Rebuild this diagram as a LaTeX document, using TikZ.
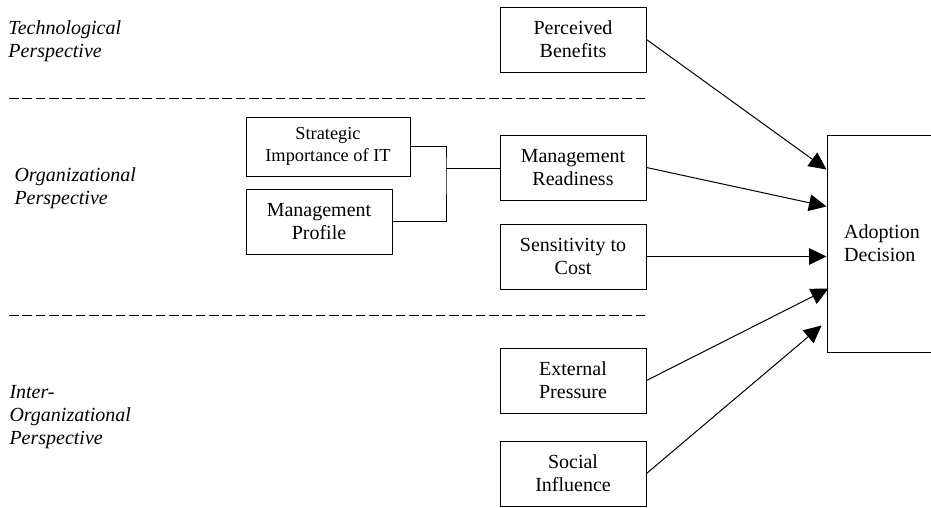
\documentclass[tikz,border=0pt]{standalone}
\usepackage{fontspec}
\setmainfont{Liberation Serif}
\usepackage{tikz}
\usetikzlibrary{positioning,calc,arrows.meta}

\begin{document}
\begin{tikzpicture}[x=0.6pt, y=-0.6pt, line width=0.6pt,
    every node/.style = {align=center, font=\fontsize{12}{13.8}\selectfont},
    box/.style = {draw, minimum width=87.6pt, minimum height=39pt, inner sep=2pt},
    persp/.style = {anchor=west, align=left, inner sep=0pt, font=\fontsize{12}{13.8}\selectfont\itshape},
    sep/.style = {dash pattern=on 5.8pt off 2.2pt},
    arr/.style = {-{Triangle[length=10.5pt, width=10pt]}}]
  \useasboundingbox (0,0) rectangle (931,507);

  % perspectives
  \node[persp] (tech) at (8,41.5) {Technological\\Perspective};
  \node[persp] (org) at (14,188.5) {Organizational\\Perspective};
  \node[persp] (inter) at (9,417) {Inter-\\Organizational\\Perspective};
  \draw[sep] (9,98) -- (646,98);
  \draw[sep] (9,315) -- (646,315);

  % factors
  \node[box] (benefits) at (573,39.5) {Perceived\\Benefits};
  \node[box] (readiness) at (573,167.5) {Management\\Readiness};
  \node[box] (cost) at (573,256.5) {Sensitivity to\\Cost};
  \node[box] (pressure) at (573,380.5) {External\\Pressure};
  \node[box] (influence) at (573,473.5) {Social\\Influence};
  \node[box, minimum width=98.4pt, minimum height=35.4pt,
        font=\fontsize{11}{13}\selectfont] (strategic) at (328,146.5) {Strategic\\Importance of IT};
  \node[box] (profile) at (319,221.5) {Management\\Profile};
  \node[draw, minimum width=66pt, minimum height=130.2pt, align=left] (adopt) at (882,243.5) {Adoption\\Decision};

  % links
  \coordinate (join) at (446,168);
  \draw (strategic.east) -| (join) |- (profile.east);
  \draw (join) -- (join -| readiness.west);
  \draw[arr] (benefits.east) -- ($(adopt.north west)+(0,35)$);
  \draw[arr] (readiness.east) -- ($(adopt.north west)+(0,72)$);
  \draw[arr] (cost.east) -- (cost.east -| adopt.west);
  \draw[arr] (pressure.east) -- ($(adopt.north west)+(2,154)$);
  \draw[arr] (influence.east) -- ($(adopt.north west)+(-5,191)$);
\end{tikzpicture}
\end{document}
